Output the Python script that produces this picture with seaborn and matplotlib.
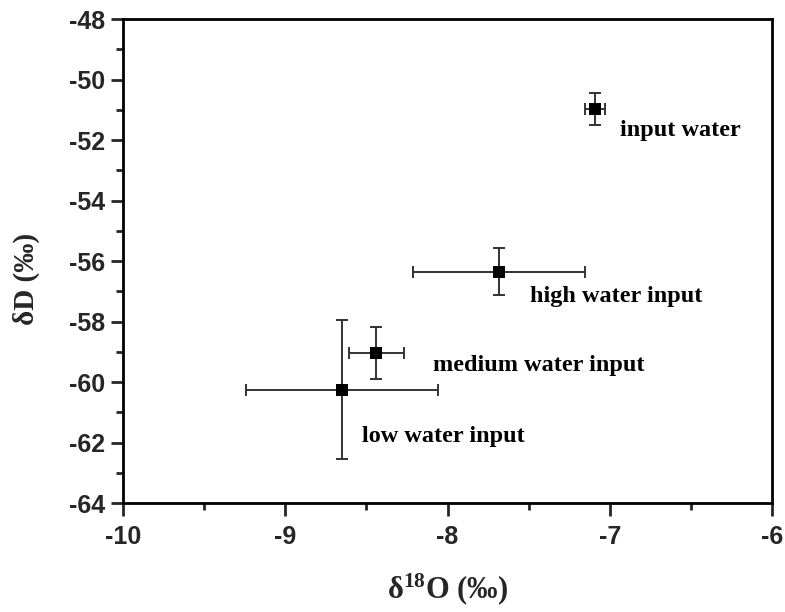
import matplotlib
matplotlib.use("Agg")
import matplotlib.pyplot as plt
import seaborn as sns
import pandas as pd
from matplotlib.ticker import MultipleLocator

# Isotope composition of each water treatment (mean and spread)
treatments = ["input water", "high water input", "medium water input", "low water input"]
d18o = [-7.09, -7.68, -8.44, -8.65]
d18o_err = [0.06, 0.53, 0.17, 0.59]
dD = [-50.98, -56.35, -59.03, -60.26]
dD_err = [0.52, 0.78, 0.86, 2.30]

# Where each treatment name is written (left edge, vertical centre)
label_x = [-6.94, -7.49, -8.09, -8.53]
label_y = [-51.67, -57.18, -59.44, -61.81]

df = pd.DataFrame({"treatment": treatments, "d18O": d18o, "d18O_err": d18o_err,
                   "dD": dD, "dD_err": dD_err})

sns.set_style("ticks")
plt.rcParams["font.family"] = ["Liberation Sans", "DejaVu Sans"]
plt.rcParams["axes.unicode_minus"] = False
plt.rcParams["mathtext.fontset"] = "custom"
plt.rcParams["mathtext.rm"] = "Liberation Serif:bold"
plt.rcParams["mathtext.bf"] = "Liberation Serif:bold"
plt.rcParams["mathtext.it"] = "Liberation Serif:bold"

fig = plt.figure(figsize=(7.85, 6.12), dpi=100)
ax = fig.add_axes([0.1567, 0.1781, 0.8268, 0.7908])

ax.errorbar(df["d18O"], df["dD"], xerr=df["d18O_err"], yerr=df["dD_err"],
            fmt="none", ecolor="#333333", elinewidth=1.4, capsize=4,
            capthick=1.4, zorder=2)
sns.scatterplot(data=df, x="d18O", y="dD", marker="s", s=84, color="black",
                edgecolor="black", linewidth=0, ax=ax, zorder=3, legend=False)

serif_bold = dict(family=["Liberation Serif", "DejaVu Serif"], weight="bold")
for name, lx, ly in zip(treatments, label_x, label_y):
    ax.text(lx, ly, name, ha="left", va="center", fontsize=17.5, color="black",
            **serif_bold)

ax.set_xlim(-10, -6)
ax.set_ylim(-64, -48)
ax.xaxis.set_major_locator(MultipleLocator(1))
ax.xaxis.set_minor_locator(MultipleLocator(0.5))
ax.yaxis.set_major_locator(MultipleLocator(2))
ax.yaxis.set_minor_locator(MultipleLocator(1))

ax.tick_params(which="major", direction="out", length=9, width=2,
               labelsize=18, top=False, right=False)
ax.tick_params(axis="x", which="major", pad=7)
ax.tick_params(axis="y", which="major", pad=4)
ax.tick_params(which="minor", direction="out", length=5, width=2,
               top=False, right=False)
for lbl in ax.get_xticklabels() + ax.get_yticklabels():
    lbl.set_fontweight("bold")
    lbl.set_family(["Liberation Sans", "DejaVu Sans"])

for sp in ax.spines.values():
    sp.set_visible(True)
    sp.set_linewidth(2)
    sp.set_color("black")

ax.set_xlabel(r"δ$^{18}$O (‰)", fontsize=22, labelpad=16, **serif_bold)
ax.set_ylabel("δD (‰)", fontsize=21, **serif_bold)
ax.yaxis.set_label_coords(-0.128, 0.462)

fig.savefig("out.png", dpi=100)
